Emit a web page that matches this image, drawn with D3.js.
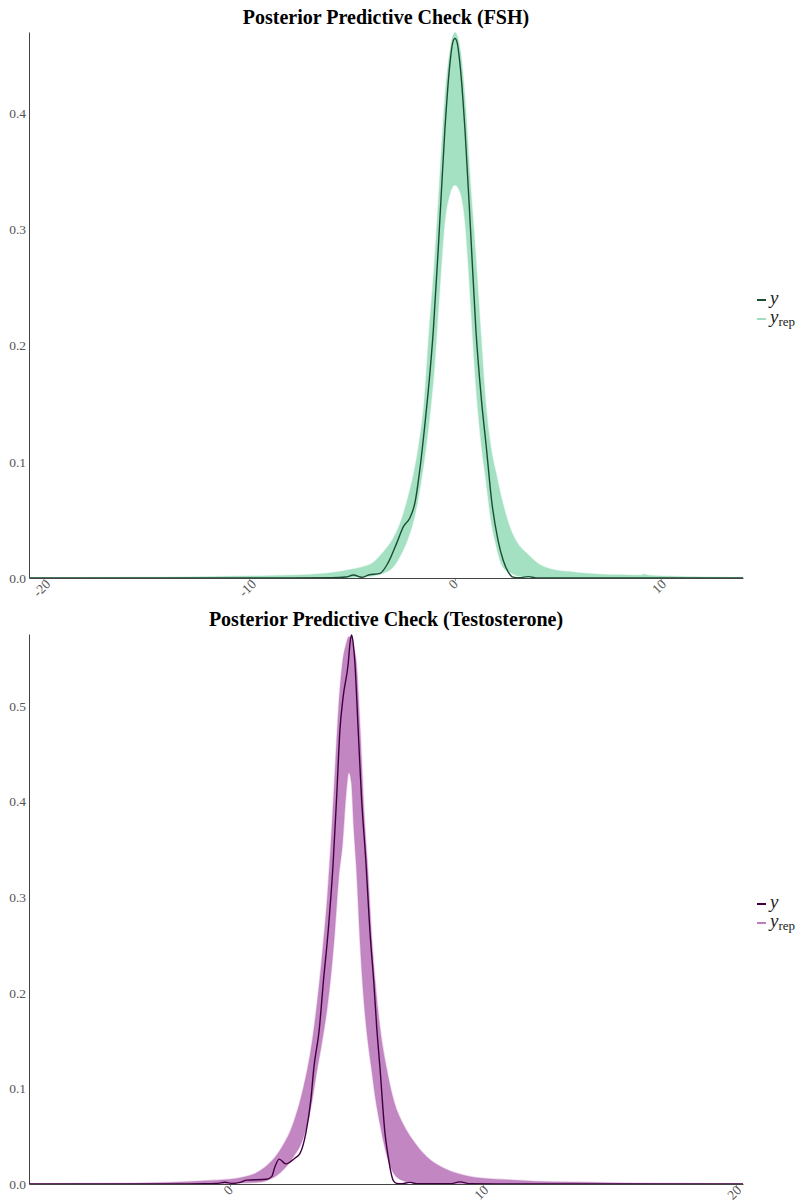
<!DOCTYPE html>
<html>
<head>
<meta charset="utf-8">
<script src="https://cdn.jsdelivr.net/npm/d3@7"></script>
<style>
  body { margin: 0; background: #fff; }
  svg { display: block; }
</style>
</head>
<body>
<svg id="chart" width="802" height="1202"></svg>
<script>
// ---------- FSH: density of observed y and the envelope of replicated densities ----------
const fshXDomain = [-20.7, 14.0];
const fshYDomain = [0, 0.4695];
const fshXTicks = [-20, -10, 0, 10];
const fshYTicks = [0, 0.1, 0.2, 0.3, 0.4];

const fshRepX = [-20.7, -17, -14, -12, -10, -9, -8, -7, -6, -5.5, -5, -4.5, -4, -3.5, -3, -2.6, -2.3, -2.0, -1.75, -1.5, -1.25, -1.0, -0.75, -0.5, -0.25, 0, 0.25, 0.5, 0.75, 1.0, 1.25, 1.5, 1.75, 2.0, 2.33, 2.75, 3.0, 3.5, 4.0, 4.5, 5.0, 5.5, 6.0, 7.0, 8.0, 9.0, 9.2, 9.5, 10.5, 12, 14];
const fshRepHigh = [0.0002, 0.0004, 0.0007, 0.0011, 0.0017, 0.002, 0.0023, 0.003, 0.0045, 0.0058, 0.0075, 0.0095, 0.013, 0.022, 0.034, 0.05, 0.068, 0.09, 0.115, 0.15, 0.213, 0.27, 0.34, 0.41, 0.452, 0.469, 0.455, 0.41, 0.34, 0.28, 0.213, 0.15, 0.112, 0.09, 0.064, 0.04, 0.031, 0.021, 0.013, 0.0085, 0.0065, 0.0055, 0.0045, 0.0033, 0.0027, 0.0023, 0.0033, 0.0021, 0.0014, 0.0008, 0.0004];
const fshRepLow = [0, 0, 0, 0, 0, 0, 0, 0, 0.0001, 0.0002, 0.0004, 0.001, 0.0018, 0.004, 0.0095, 0.021, 0.033, 0.05, 0.072, 0.1, 0.135, 0.18, 0.245, 0.305, 0.33, 0.338, 0.332, 0.305, 0.24, 0.17, 0.12, 0.085, 0.05, 0.028, 0.0095, 0.004, 0.002, 0.0008, 0.0004, 0.0001, 0, 0, 0, 0, 0, 0, 0, 0, 0, 0, 0];

const fshObsX = [-20.7, -8, -6, -5.3, -4.93, -4.53, -4.2, -3.64, -3.25, -2.83, -2.51, -2.18, -1.94, -1.7, -1.46, -1.3, -1.05, -0.76, -0.49, -0.24, -0.1, 0, 0.1, 0.24, 0.49, 0.76, 1.02, 1.29, 1.54, 1.78, 2.1, 2.35, 2.59, 2.83, 3.16, 3.56, 3.96, 5, 14];
const fshObsY = [0, 0.0001, 0.0002, 0.0008, 0.0026, 0.0006, 0.0026, 0.004, 0.013, 0.03, 0.044, 0.052, 0.065, 0.094, 0.132, 0.16, 0.213, 0.299, 0.385, 0.443, 0.461, 0.464, 0.461, 0.443, 0.385, 0.299, 0.213, 0.153, 0.11, 0.067, 0.032, 0.015, 0.005, 0.0008, 0.0003, 0.0012, 0.0001, 0, 0];

// ---------- Testosterone ----------
const testoXDomain = [-7.94, 20.28];
const testoYDomain = [0, 0.575];
const testoXTicks = [0, 10, 20];
const testoYTicks = [0, 0.1, 0.2, 0.3, 0.4, 0.5];

const testoRepX = [-7.94, -6, -4, -3, -2, -1, 0, 0.5, 1.0, 1.5, 2.0, 2.5, 2.9, 3.2, 3.45, 3.65, 3.85, 4.0, 4.15, 4.3, 4.45, 4.6, 4.7, 4.8, 4.9, 5.0, 5.15, 5.3, 5.45, 5.6, 5.75, 5.95, 6.2, 6.5, 6.8, 7.2, 7.8, 8.5, 9.3, 10, 11, 12, 13.5, 15, 16.5, 18, 20.28];
const testoRepHigh = [0.0003, 0.0005, 0.0009, 0.0013, 0.002, 0.0035, 0.005, 0.007, 0.011, 0.02, 0.036, 0.063, 0.1, 0.14, 0.19, 0.24, 0.3, 0.36, 0.43, 0.5, 0.545, 0.565, 0.572, 0.57, 0.56, 0.545, 0.475, 0.39, 0.33, 0.26, 0.21, 0.16, 0.12, 0.085, 0.065, 0.047, 0.028, 0.016, 0.009, 0.006, 0.0045, 0.003, 0.002, 0.0013, 0.0008, 0.0004, 0.0001];
const testoRepLow = [0, 0, 0, 0, 0.0001, 0.0003, 0.0006, 0.001, 0.0015, 0.004, 0.012, 0.028, 0.048, 0.08, 0.12, 0.15, 0.185, 0.22, 0.265, 0.32, 0.355, 0.41, 0.43, 0.42, 0.37, 0.33, 0.25, 0.19, 0.15, 0.12, 0.09, 0.06, 0.03, 0.01, 0.004, 0.0015, 0.0008, 0.0004, 0.0002, 0, 0, 0, 0, 0, 0, 0, 0];

const testoObsX = [-7.94, -3, -1, -0.5, -0.2, 0.1, 0.4, 0.66, 1.45, 1.65, 1.78, 1.95, 2.21, 2.57, 2.77, 3.0, 3.2, 3.32, 3.53, 3.69, 3.89, 4.08, 4.22, 4.35, 4.48, 4.68, 4.75, 4.81, 4.87, 4.94, 5.07, 5.2, 5.38, 5.53, 5.69, 5.8, 5.93, 6.13, 6.26, 6.35, 6.46, 6.59, 6.8, 7.11, 7.4, 8.7, 9.1, 9.5, 11, 20.28];
const testoObsY = [0, 0, 0.0002, 0.0006, 0.0018, 0.0006, 0.0017, 0.004, 0.005, 0.0077, 0.018, 0.026, 0.021, 0.027, 0.032, 0.053, 0.088, 0.122, 0.161, 0.21, 0.266, 0.335, 0.405, 0.475, 0.51, 0.545, 0.566, 0.574, 0.566, 0.545, 0.475, 0.405, 0.335, 0.266, 0.21, 0.165, 0.122, 0.053, 0.028, 0.014, 0.0035, 0.0007, 0.0003, 0.0017, 0.0003, 0.0003, 0.0022, 0.0003, 0, 0];

// ---------- shared layout ----------
const SERIF = "'Liberation Serif', 'DejaVu Serif', serif";
const LEFT = 29, RIGHT = 743;
const AXIS_COLOR = "#444";
const TICK_TEXT = "#555555";

const svg = d3.select("#chart");

const panels = [
  {
    id: "fsh",
    title: "Posterior Predictive Check (FSH)",
    titleY: 24, top: 32, bottom: 578,
    xDomain: fshXDomain, yDomain: fshYDomain,
    xTicks: fshXTicks, yTicks: fshYTicks,
    repX: fshRepX, repHigh: fshRepHigh, repLow: fshRepLow,
    obsX: fshObsX, obsY: fshObsY,
    obsColor: "#1a4d33", repColor: "#9fdfbf"
  },
  {
    id: "testo",
    title: "Posterior Predictive Check (Testosterone)",
    titleY: 626, top: 634, bottom: 1184,
    xDomain: testoXDomain, yDomain: testoYDomain,
    xTicks: testoXTicks, yTicks: testoYTicks,
    repX: testoRepX, repHigh: testoRepHigh, repLow: testoRepLow,
    obsX: testoObsX, obsY: testoObsY,
    obsColor: "#400040", repColor: "#bf7fbf"
  }
];

panels.forEach(drawPanel);

function drawPanel(p) {
  const x = d3.scaleLinear().domain(p.xDomain).range([LEFT, RIGHT]);
  const y = d3.scaleLinear().domain(p.yDomain).range([p.bottom, p.top]);
  const g = svg.append("g").attr("class", "panel-" + p.id);

  // title
  g.append("text")
    .attr("x", (LEFT + RIGHT) / 2)
    .attr("y", p.titleY)
    .attr("text-anchor", "middle")
    .attr("font-family", SERIF)
    .attr("font-weight", "bold")
    .attr("font-size", 20)
    .attr("fill", "#000")
    .text(p.title);

  // clip to the plotting area
  const clipId = "clip-" + p.id;
  svg.append("clipPath").attr("id", clipId)
    .append("rect")
    .attr("x", LEFT).attr("y", p.top - 2)
    .attr("width", RIGHT - LEFT).attr("height", p.bottom - p.top + 2);

  // axes
  const yAxis = d3.axisLeft(y)
    .tickValues(p.yTicks)
    .tickFormat(d3.format(".1f"))
    .tickSize(0)
    .tickPadding(3);
  const yg = g.append("g").attr("transform", `translate(${LEFT},0)`).call(yAxis);
  yg.select(".domain").attr("stroke", AXIS_COLOR).attr("stroke-width", 1);
  yg.selectAll("text")
    .attr("font-family", SERIF).attr("font-size", 13.5).attr("fill", TICK_TEXT);

  const xAxis = d3.axisBottom(x)
    .tickValues(p.xTicks)
    .tickFormat(d => String(d))
    .tickSizeInner(3)
    .tickSizeOuter(0);
  const xg = g.append("g").attr("transform", `translate(0,${p.bottom})`).call(xAxis);
  xg.select(".domain").attr("stroke", AXIS_COLOR).attr("stroke-width", 1);
  xg.selectAll(".tick line").attr("stroke", AXIS_COLOR).attr("stroke-opacity", 0.6);
  xg.selectAll("text")
    .attr("font-family", SERIF).attr("font-size", 13.5).attr("fill", TICK_TEXT)
    .attr("text-anchor", "middle")
    .attr("y", 0).attr("dy", "0.32em")
    .each(function () {
      const w = this.getComputedTextLength();
      const off = 4 + w * 0.354;
      d3.select(this).attr("transform", `translate(-2,${off}) rotate(-45)`);
    });

  const plot = g.append("g").attr("clip-path", `url(#${clipId})`);

  // envelope of the replicated densities
  const repRows = p.repX.map((v, i) => ({ v, lo: p.repLow[i], hi: p.repHigh[i] }));
  const band = d3.area()
    .x(d => x(d.v))
    .y0(d => y(d.lo))
    .y1(d => y(d.hi))
    .curve(d3.curveMonotoneX);
  plot.append("path")
    .datum(repRows)
    .attr("d", band)
    .attr("fill", p.repColor)
    .attr("fill-opacity", 0.95)
    .attr("stroke", p.repColor)
    .attr("stroke-opacity", 0.3)
    .attr("stroke-width", 1.5);

  // observed density
  const obsRows = p.obsX.map((v, i) => ({ v, d: p.obsY[i] }));
  const line = d3.line()
    .x(d => x(d.v))
    .y(d => y(d.d))
    .curve(d3.curveMonotoneX);
  plot.append("path")
    .datum(obsRows)
    .attr("d", line)
    .attr("fill", "none")
    .attr("stroke", p.obsColor)
    .attr("stroke-width", 1.4)
    .attr("stroke-linejoin", "round");

  // legend
  const midY = (p.top + p.bottom) / 2;
  const lg = g.append("g").attr("transform", `translate(757,${midY})`);
  const rows = [
    { dy: -5, color: p.obsColor, sub: null },
    { dy: 14, color: p.repColor, sub: "rep" }
  ];
  rows.forEach(r => {
    lg.append("line")
      .attr("x1", 0).attr("x2", 9)
      .attr("y1", r.dy).attr("y2", r.dy)
      .attr("stroke", r.color).attr("stroke-width", 2);
    const t = lg.append("text")
      .attr("x", 13).attr("y", r.dy + 4)
      .attr("font-family", SERIF)
      .attr("font-size", 19)
      .attr("fill", "#222");
    t.append("tspan").attr("font-style", "italic").text("y");
    if (r.sub) {
      t.append("tspan")
        .attr("font-size", 13)
        .attr("dy", 3)
        .text(r.sub);
    }
  });
}
</script>
</body>
</html>
